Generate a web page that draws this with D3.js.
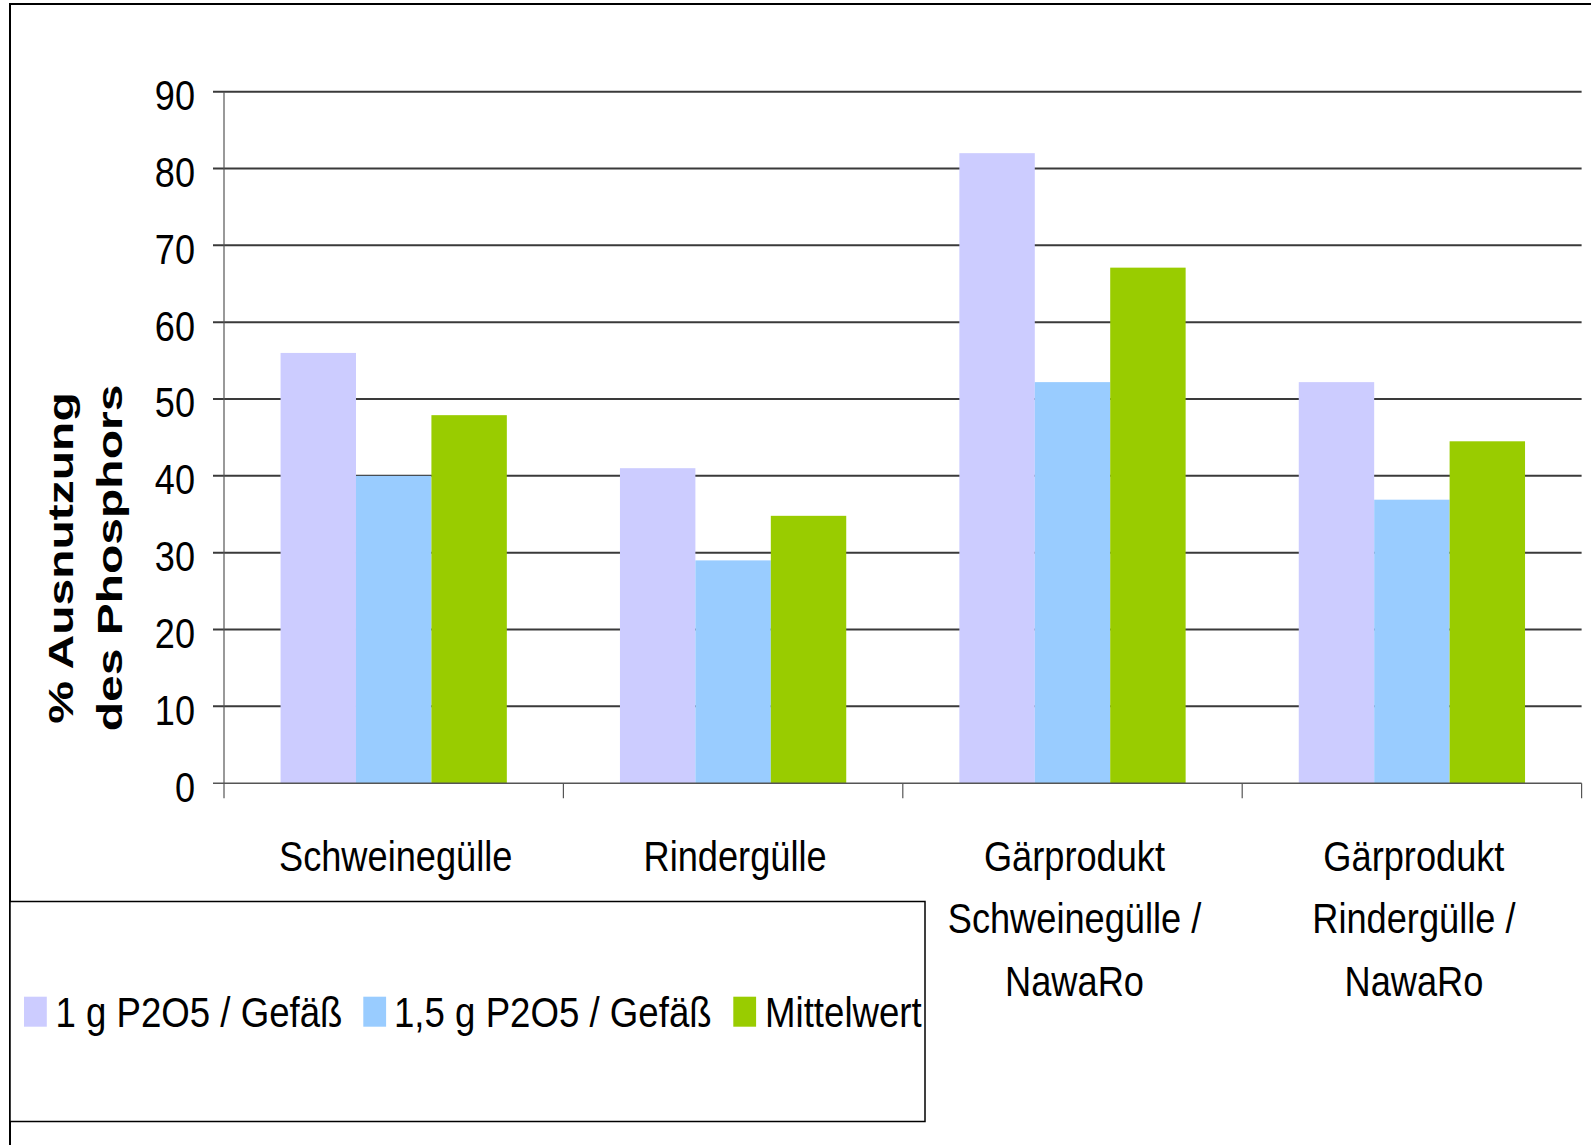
<!DOCTYPE html>
<html>
<head>
<meta charset="utf-8">
<script src="https://cdn.jsdelivr.net/npm/d3@7"></script>
<style>
  html, body { margin: 0; padding: 0; background: #fff; }
  svg { display: block; }
  text { font-family: "Liberation Sans", Arial, sans-serif; fill: #000; }
</style>
</head>
<body>
<script>
const categories = [
  ["Schweinegülle"],
  ["Rindergülle"],
  ["Gärprodukt", "Schweinegülle /", "NawaRo"],
  ["Gärprodukt", "Rindergülle /", "NawaRo"]
];
const seriesNames = ["1 g P2O5 / Gefäß", "1,5 g P2O5 / Gefäß", "Mittelwert"];
const series1g = [56, 41, 82, 52.2];
const series15g = [40, 29, 52.2, 36.9];
const seriesMean = [47.9, 34.8, 67.1, 44.5];
const yTicks = [0, 10, 20, 30, 40, 50, 60, 70, 80, 90];
const yLabelLines = ["% Ausnutzung", "des Phosphors"];
const colors = ["#CCCCFF", "#99CCFF", "#99CC00"];

const W = 1591, H = 1145;
const svg = d3.select("body").append("svg").attr("width", W).attr("height", H);

// outer frame (extends past right / bottom edge)
svg.append("rect").attr("x", 10).attr("y", 4).attr("width", 1700).attr("height", 1300)
  .attr("fill", "#fff").attr("stroke", "#000").attr("stroke-width", 2);

const plotL = 224, plotR = 1581.6, y0 = 783.2, y90 = 91.7;
const catIdx = d3.range(categories.length);
const x = d3.scaleBand().domain(catIdx).range([plotL, plotR]).paddingInner(0).paddingOuter(0);
const xs = d3.scaleBand().domain(d3.range(3)).range([0, x.bandwidth()]).paddingInner(0).paddingOuter(0.75);
const y = d3.scaleLinear().domain([0, 90]).range([y0, y90]);

function ntext(parent, px, py, str, anchor, size, sx) {
  const g = parent.append("g").attr("transform", `translate(${px},${py}) scale(${sx},1)`);
  g.append("text").attr("text-anchor", anchor).attr("font-size", size).text(str);
  return g;
}

// gridlines
const grid = svg.append("g");
yTicks.forEach(t => {
  if (t === 0) return;
  grid.append("line").attr("x1", 213).attr("x2", plotR)
    .attr("y1", y(t)).attr("y2", y(t))
    .attr("stroke", "#3a3a3a").attr("stroke-width", 2);
});

// bars
const all = [series1g, series15g, seriesMean];
all.forEach((vals, si) => {
  svg.append("g").selectAll("rect").data(vals).join("rect")
    .attr("x", (d, i) => x(i) + xs(si))
    .attr("width", xs.bandwidth())
    .attr("y", d => y(d))
    .attr("height", d => y(0) - y(d))
    .attr("fill", colors[si]);
});

// axes
svg.append("line").attr("x1", plotL).attr("x2", plotL).attr("y1", y90).attr("y2", y0 + 15)
  .attr("stroke", "#555").attr("stroke-width", 1.2);
svg.append("line").attr("x1", 213).attr("x2", plotR).attr("y1", y0).attr("y2", y0)
  .attr("stroke", "#555").attr("stroke-width", 1.5);
catIdx.forEach(i => {
  const xt = x(i) + x.bandwidth();
  svg.append("line").attr("x1", xt).attr("x2", xt).attr("y1", y0).attr("y2", y0 + 15)
    .attr("stroke", "#555").attr("stroke-width", 1.2);
});

// y tick labels
yTicks.forEach(t => ntext(svg, 195, y(t) + 18.3, String(t), "end", 43, 0.84));

// category labels
catIdx.forEach(i => {
  const cx = x(i) + x.bandwidth() / 2 + 2;
  categories[i].forEach((line, li) => ntext(svg, cx, 870.7 + li * 62.7, line, "middle", 43, 0.842));
});

// y axis title
yLabelLines.forEach((line, li) => {
  const bx = li === 0 ? 73.3 : 121.7;
  svg.append("g").attr("transform", `translate(${bx},558) rotate(-90) scale(1,0.74)`)
    .append("text").attr("text-anchor", "middle").attr("font-size", 48)
    .attr("font-weight", "bold").text(line);
});

// legend
svg.append("rect").attr("x", 10).attr("y", 901.5).attr("width", 915).attr("height", 220)
  .attr("fill", "#fff").attr("stroke", "#000").attr("stroke-width", 1.5);
const swX = [24, 363.3, 733.3];
const txX = [55.4, 394, 765];
seriesNames.forEach((n, i) => {
  svg.append("rect").attr("x", swX[i]).attr("y", 996.7).attr("width", 22.8).attr("height", 30)
    .attr("fill", colors[i]);
  ntext(svg, txX[i], 1026.7, n, "start", 43, 0.852);
});
</script>
</body>
</html>
